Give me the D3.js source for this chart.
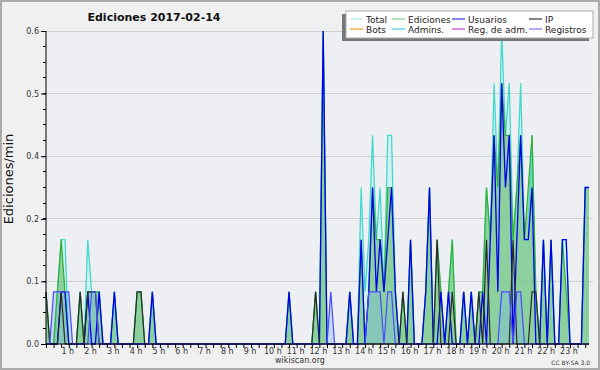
<!DOCTYPE html>
<html><head><meta charset="utf-8">
<script src="https://cdn.jsdelivr.net/npm/d3@7"></script>
<style>
body{margin:0;background:#fff}
svg{display:block}
text{font-family:"DejaVu Sans",sans-serif}
</style>
</head><body>
<svg id="c" width="600" height="370"></svg>
<script>
// ---- data: edits per 10-minute bucket (144 buckets, one row per hour) ----
const hourLabels = ["1 h","2 h","3 h","4 h","5 h","6 h","7 h","8 h","9 h","10 h","11 h","12 h",
  "13 h","14 h","15 h","16 h","17 h","18 h","19 h","20 h","21 h","22 h","23 h"];
const yTickValues = [0, 0.12, 0.24, 0.36, 0.48, 0.6];
const yTickLabels = ["0.0","0.1","0.2","0.4","0.5","0.6"];

const total = [
 1,0,0,1,2,2, 0,0,0,1,0,2, 1,1,1,0,0,0, 1,0,0,0,0,0, 1,1,0,0,1,0, 0,0,0,0,0,0,
 0,0,0,0,0,0, 0,0,0,0,0,0, 0,0,0,0,0,0, 0,0,0,0,0,0, 0,0,0,0,1,0, 0,0,0,0,0,1,
 0,6,0,0,0,0, 0,0,1,0,0,3, 1,2,4,2,3,1, 4,4,1,0,1,0, 2,0,0,0,1,3, 0,2,1,0,1,2,
 0,0,1,0,1,0, 1,1,3,2,5,3, 6,4,5,2,3,5, 2,2,4,1,0,2, 0,2,0,0,2,2, 0,0,0,0,3,3];
const ediciones = [
 1,0,0,1,2,1, 0,0,0,1,0,1, 1,1,1,0,0,0, 1,0,0,0,0,0, 1,1,0,0,1,0, 0,0,0,0,0,0,
 0,0,0,0,0,0, 0,0,0,0,0,0, 0,0,0,0,0,0, 0,0,0,0,0,0, 0,0,0,0,1,0, 0,0,0,0,0,1,
 0,6,0,0,0,0, 0,0,1,0,0,2, 0,1,3,2,2,1, 3,3,1,0,1,0, 2,0,0,0,1,3, 0,2,1,0,1,2,
 0,0,1,0,1,0, 1,1,3,2,4,3, 5,4,4,2,3,4, 2,3,4,1,0,2, 0,2,0,0,2,1, 0,0,0,0,3,3];
const usuarios = [
 0,0,0,0,1,1, 0,0,0,0,0,1, 0,0,1,0,0,0, 1,0,0,0,0,0, 0,0,0,0,1,0, 0,0,0,0,0,0,
 0,0,0,0,0,0, 0,0,0,0,0,0, 0,0,0,0,0,0, 0,0,0,0,0,0, 0,0,0,0,1,0, 0,0,0,0,0,0,
 0,6,0,0,0,0, 0,0,1,0,0,2, 0,1,3,1,2,1, 2,3,1,0,0,0, 2,0,0,0,1,3, 0,0,1,0,1,0,
 0,0,1,0,1,0, 0,1,0,2,4,1, 5,3,4,0,2,4, 2,2,3,0,0,2, 0,2,0,0,2,2, 0,0,0,0,3,3];
const ip = [
 1,0,0,0,1,0, 0,0,0,1,0,1, 1,1,0,0,0,0, 0,0,0,0,0,0, 1,1,0,0,0,0, 0,0,0,0,0,0,
 0,0,0,0,0,0, 0,0,0,0,0,0, 0,0,0,0,0,0, 0,0,0,0,0,0, 0,0,0,0,0,0, 0,0,0,0,0,1,
 0,0,0,0,0,0, 0,0,0,0,0,0, 0,0,0,0,0,0, 0,0,0,0,1,0, 0,0,0,0,0,0, 0,2,0,0,0,1,
 0,0,0,0,0,0, 1,0,2,0,0,0, 0,0,0,2,0,0, 0,0,1,1,0,0, 0,0,0,0,0,0, 0,0,0,0,0,0];
const registros = [
 0,0,1,1,1,1, 1,0,0,0,0,0, 1,1,0,0,0,0, 0,0,0,0,0,0, 0,0,0,0,0,0, 0,0,0,0,0,0,
 0,0,0,0,0,0, 0,0,0,0,0,0, 0,0,0,0,0,0, 0,0,0,0,0,0, 0,0,0,0,0,0, 0,0,0,0,0,0,
 0,0,0,1,0,0, 0,0,0,0,0,0, 0,1,1,1,1,0, 1,1,0,0,0,0, 0,0,0,0,0,0, 0,0,0,0,0,0,
 0,0,0,0,0,0, 0,0,0,0,0,0, 1,1,1,0,1,1, 0,0,0,0,0,0, 0,0,0,0,0,0, 0,0,0,0,0,0];
const bucketMinutes = 10;

const legendItems = [
 {name:"Total", color:"#aee6e6"}, {name:"Ediciones", color:"#88cc88"},
 {name:"Usuarios", color:"#3333dd"}, {name:"IP", color:"#333333"},
 {name:"Bots", color:"#ff9933"}, {name:"Admins.", color:"#44ccdd"},
 {name:"Reg. de adm.", color:"#cc44dd"}, {name:"Registros", color:"#7777ff"}];

// ---- layout ----
const svg = d3.select("#c");
const L = 46, R = 589, T = 31, B = 344;
const x = d3.scaleLinear().domain([0, total.length - 1]).range([L, R]);
const y = d3.scaleLinear().domain([0, 0.6]).range([B, T]);
const rate = v => v / bucketMinutes;

svg.append("rect").attr("x",0).attr("y",0).attr("width",600).attr("height",370).attr("fill","#f0f0f0");
svg.append("rect").attr("x",1).attr("y",1).attr("width",598).attr("height",368)
  .attr("fill","none").attr("stroke","#aaaaaa").attr("stroke-width",2);
svg.append("rect").attr("x",L).attr("y",T-4).attr("width",R-L+4).attr("height",B-T+4).attr("fill","#eeeff2");

// gridlines
svg.append("g").selectAll("line").data(yTickValues.slice(1)).join("line")
  .attr("x1",L).attr("x2",R+4).attr("y1",d=>y(d)).attr("y2",d=>y(d))
  .attr("stroke","#cfcfcf").attr("stroke-width",1).attr("shape-rendering","crispEdges");

const area = d3.area().x((d,i)=>x(i)).y0(y(0)).y1(d=>y(rate(d)));
const line = d3.line().x((d,i)=>x(i)).y(d=>y(rate(d)));

const plot = svg.append("g");
plot.append("path").datum(total).attr("d",area).attr("fill","rgba(190,240,238,0.6)");
plot.append("path").datum(ediciones).attr("d",area).attr("fill","rgba(55,170,55,0.45)");
plot.append("path").datum(registros).attr("d",area).attr("fill","rgba(120,180,235,0.35)");
plot.append("path").datum(total).attr("d",line).attr("fill","none").attr("stroke","#44d8cc").attr("stroke-width",1.3);
plot.append("path").datum(ediciones).attr("d",line).attr("fill","none").attr("stroke","#33b033").attr("stroke-width",1.2);
plot.append("path").datum(usuarios).attr("d",line).attr("fill","none").attr("stroke","#0000ee").attr("stroke-width",1.3);
plot.append("path").datum(ip).attr("d",line).attr("fill","none").attr("stroke","#2a2a2a").attr("stroke-width",1.2);
plot.append("path").datum(registros).attr("d",line).attr("fill","none").attr("stroke","#4a4aff").attr("stroke-width",1.2);

// y axis
const yAxis = d3.axisLeft(y).tickValues(yTickValues).tickSize(5).tickPadding(2)
  .tickFormat((d,i)=>yTickLabels[i]);
const gy = svg.append("g").attr("transform",`translate(${L},0)`).call(yAxis);
gy.select(".domain").attr("stroke","#000").attr("d",`M0,${T}V${B}`);
gy.selectAll(".tick line").attr("stroke","#000");
gy.selectAll(".tick text").attr("font-size",8).attr("fill","#333").attr("font-family","DejaVu Sans");
const yMinor = d3.range(0, 0.6001, 0.03);
svg.append("g").selectAll("line").data(yMinor).join("line")
  .attr("x1",L-3).attr("x2",L).attr("y1",d=>y(d)).attr("y2",d=>y(d))
  .attr("stroke","#000").attr("shape-rendering","crispEdges");

// x axis
const xTicks = d3.range(0, total.length, 2);
const xAxis = d3.axisBottom(x).tickValues(xTicks).tickSize(4).tickFormat("");
const gx = svg.append("g").attr("transform",`translate(0,${B})`).call(xAxis);
gx.select(".domain").attr("stroke","#000").attr("d",`M${L},0H${R}`);
gx.selectAll(".tick line").attr("stroke","#000");
svg.append("g").selectAll("text").data(hourLabels).join("text")
  .attr("x",(d,i)=>x((i+1)*60/bucketMinutes)-1).attr("y",354)
  .attr("text-anchor","middle").attr("font-size",8).attr("fill","#333").text(d=>d);

// titles
svg.append("text").attr("x",154).attr("y",21).attr("text-anchor","middle")
  .attr("font-size",11).attr("font-weight","bold").attr("fill","#111").text("Ediciones  2017-02-14");
svg.append("text").attr("transform","translate(13,179) rotate(-90)").attr("text-anchor","middle")
  .attr("font-size",13).attr("fill","#111").text("Ediciones/min");
svg.append("text").attr("x",300).attr("y",363).attr("text-anchor","middle")
  .attr("font-size",8).attr("fill","#333").text("wikiscan.org");
svg.append("text").attr("x",590).attr("y",365).attr("text-anchor","end")
  .attr("font-size",6).attr("fill","#333").text("CC BY-SA 3.0");

// legend
const lg = svg.append("g");
lg.append("rect").attr("x",342).attr("y",14).attr("width",247).attr("height",27).attr("fill","#777");
lg.append("rect").attr("x",346).attr("y",11).attr("width",247).attr("height",27)
  .attr("fill","#fff").attr("stroke","#aaa");
const colX = [366, 408, 468, 545];
const rowY = [22.5, 32.5];
legendItems.forEach((d,i)=>{
  const cx = colX[i%4], cy = rowY[Math.floor(i/4)];
  lg.append("line").attr("x1",cx-16).attr("x2",cx-3).attr("y1",cy-3.5).attr("y2",cy-3.5)
    .attr("stroke",d.color).attr("stroke-width",1.2);
  lg.append("text").attr("x",cx).attr("y",cy).attr("font-size",9)
    .attr("fill","#222").text(d.name);
});
</script>
</body></html>
